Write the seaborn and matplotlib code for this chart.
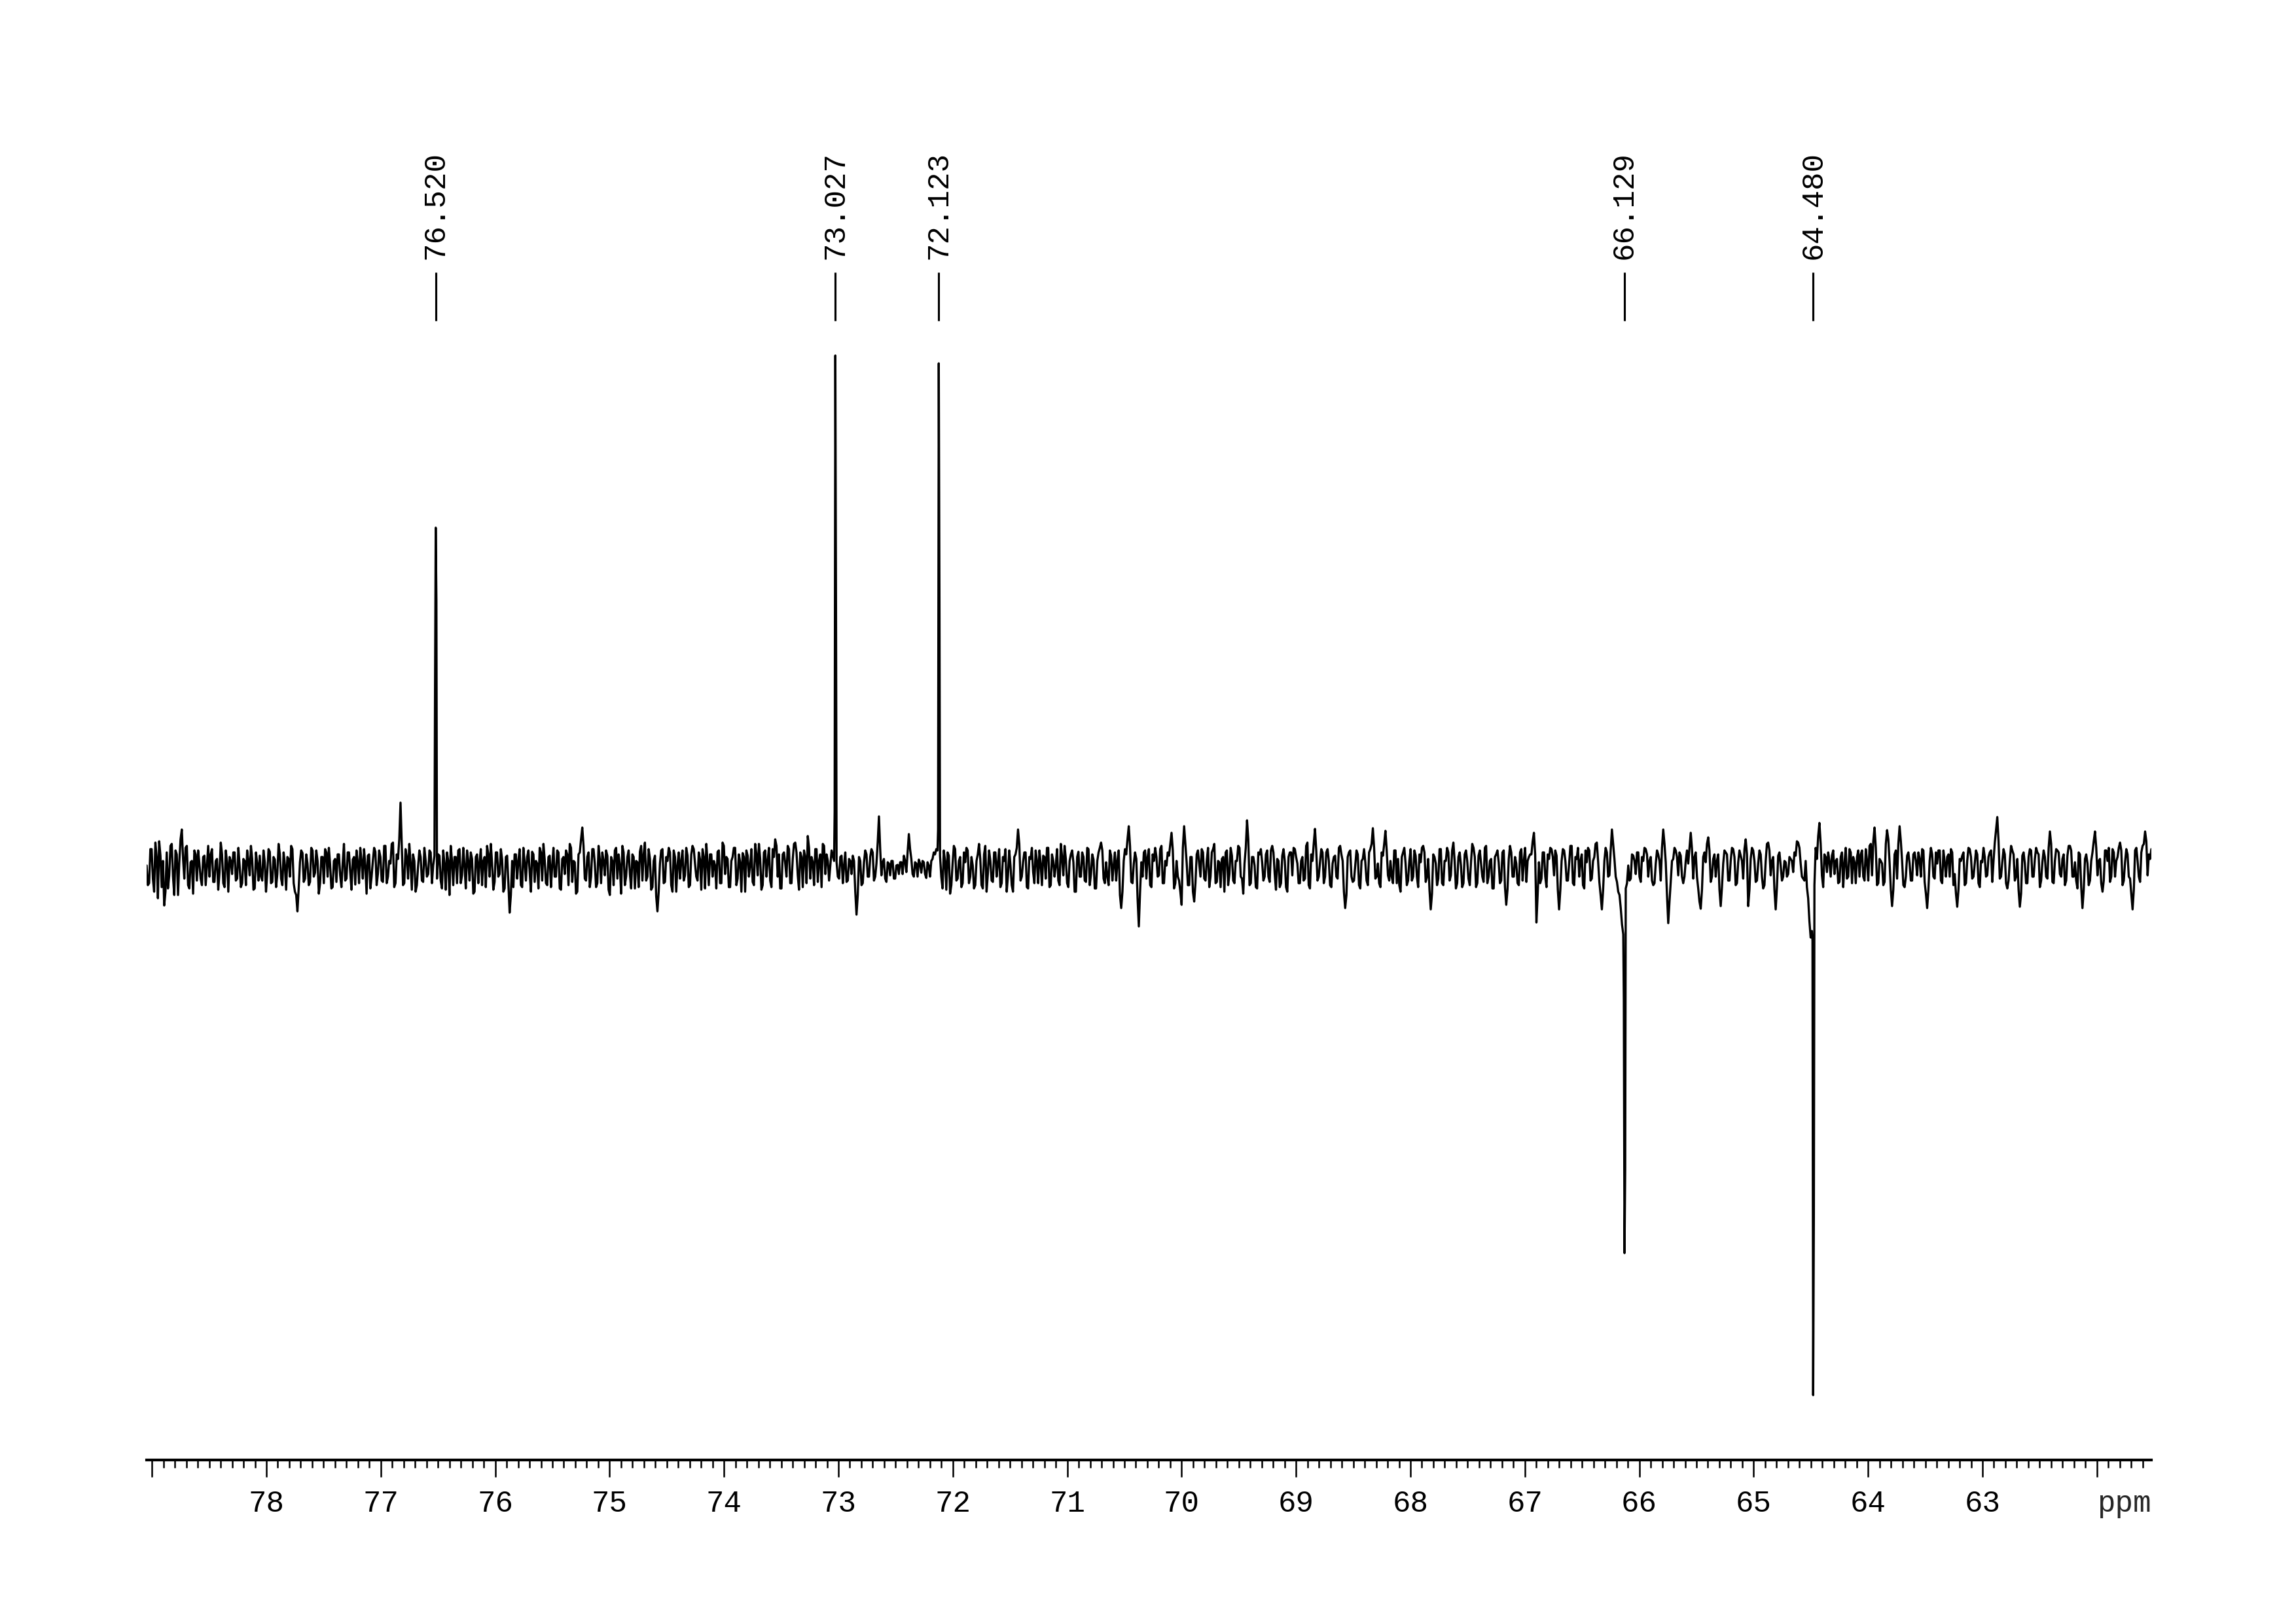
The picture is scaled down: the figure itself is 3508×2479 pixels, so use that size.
import numpy as np
import pandas as pd
import matplotlib
matplotlib.use("Agg")
import matplotlib.pyplot as plt
from matplotlib.ticker import FixedLocator, FixedFormatter, MultipleLocator
import seaborn as sns

# ---------------- data (intensities in arbitrary units, baseline = 0) ----------------
x_start, x_end = 79.047, 61.524          # spectral window (ppm)
peak_ppm   = [76.520, 73.027, 72.123, 66.129, 64.480]
peak_top   = [521, 784, 772, -587, -804]
peak_left  = [270, 87, 60, -200, -110]
peak_right = [410, 400, 410, -460, -527]
peak_labels = ["76.520", "73.027", "72.123", "66.129", "64.480"]

major_ticks = [79, 78, 77, 76, 75, 74, 73, 72, 71, 70, 69, 68, 67, 66, 65, 64, 63, 62]
major_labels = ["", "78", "77", "76", "75", "74", "73", "72", "71", "70", "69",
                "68", "67", "66", "65", "64", "63", ""]

# baseline noise read segment by segment (between the peaks); *_mid = in-between points
noise_1 = [5, -22, 30, -35, 18, 42, -28, -56, 25, -10,
           38, -40, 22, 10, 60, -15, 35, -30, 12, 28,
           -18, 8, -25, 20, 5, -12, 30, -20, 15, -5,
           22, -28, 10, 18, -8, 25, -15, 5, -22, 12,
           28, -10, 15, -30, 8, 20, -18, 10, -5, 26,
           -20, 14, -8, 22, -25, 6, 18, -12, 30, -35,
           -65, 10, 24, -15, 8, -20, 28, -6, 12, -22,
           18, 30, -12, 6, -28, 15, 22, -10, 8, -18,
           25, -5, 14, -24, 10, 32, -15, 5, 20, -30,
           12, 26, -8, 18, -20, 35, -12, 8, 40, -22,
           15, 101, -25, 30, -15, 10, 22, -35, 5, 18,
           -20, 12, -8, 25, 5]
noise_1_mid = [-25, 30, -15, 40, -45, 20, 12, -35, -30, 35,
               -12, 28, -40, 45, 15, 32, -25, 10, -38, 22,
               28, -15, 18, -25, 35, 22, -20, 12, -32, 40,
               -22, 28, -35, 12, 25, -18, 32, -28, 15, -25,
               12, 35, -32, 25, -18, -12, 28, -35, 30, -22,
               18, -28, 38, -15, 25, -32, 15, 35, -22, -40,
               -30, 28, -20, 22, -25, 32, -12, 28, -38, 18,
               -22, 25, 32, -30, 12, -20, 22, -28, 38, -15,
               25, -32, 18, 28, -22, 12, 30, -38, 22, -12,
               32, -25, 28, -18, 35, -22, 12, 38, -28, 22,
               45, 35, -22, 18, 38, -32, 12, -25, 28, -18,
               32, -12, 28, -22, 20]
noise_2 = [-15, 20, -30, 8, 25, -40, 12, 18, -22, 30,
           -10, 5, 28, -18, 15, -35, 22, 10, -25, 18,
           35, -12, 8, -20, 25, -8, 14, -30, 20, -67,
           12, 22, -15, 30, -28, 10, 18, -5, 26, -20,
           8, 32, -18, 14, -25, 20, 5, -12, 28, -30,
           15, -8, 22, 38, -20, 10, -35, 25, 63, -15,
           18, -28, 30, 8, -22, 14, 25, -10, 20, -40,
           12, 28, -15, 5, 35, -25, 18, -8, 22, -30,
           10, 26, -18, 40, -12, 15, -28, 20, -65, 8,
           30, -20, 12, 25, -35, 18, 5, -15, 28, -10,
           20, -25, 35, 8, -18, 14, 30, -30, 10, 22,
           -12, 5, 26, -22, 40, -8, 15, -28, 18, 32,
           -15, 10, 24, -35, 20, 6, -20, 38, -10, 15,
           -25, 28, 12, -18, 30, 45, -12, -30, 22, 8,
           35, -22, 15, 40, -10, 25, -28, 18, 50, -15,
           10, 30, -20, 22, 38, -8, 12, 5, 20]
noise_2_mid = [22, -18, 28, -32, 12, 35, -25, 18, 28, -22,
               32, -30, 12, 25, -38, 18, -22, 30, 12, -28,
               22, 38, -32, 25, -12, 30, -35, 18, -22, -40,
               -28, 22, 12, -25, 32, -18, 28, -35, 22, 12,
               -30, 25, 38, -22, 18, -28, 32, -12, 25, -32,
               18, 28, -25, 32, 12, -38, 22, 45, 35, -18,
               25, -12, 30, -28, 35, -22, 12, 28, -32, 18,
               -25, 32, 22, -38, 25, -12, 28, -30, 18, 12,
               -28, 35, 22, -18, 30, -32, 12, -42, -35, 28,
               -22, 18, 32, -25, 28, -35, 25, 12, -18, 32,
               -28, 22, 30, -12, 25, -32, 18, 38, -25, 22,
               12, -30, 28, -22, 35, 18, -28, 12, 32, -25,
               22, -35, 18, 28, -12, 30, -25, 22, 38, -32,
               25, -12, 32, -28, 18, 35, 22, -30, 25, -12,
               30, -22, 38, 25, -32, 18, 28, -22, 32, 18,
               -25, 30, 12, -28, 35, 22, -18, 28, 12]
noise_3 = [10, -15, 20, 5, -20, 15, -8, 12, -70, 18,
           -25, 10, 22, -12, 30, -18, 8, 80, -10, 15,
           -20, 8, 12, -15, 5, -8, 10, 20, -5, 53,
           15, -12, 8, 14, -6, 10, -14, 5, 12, 25, 30]
noise_3_mid = [-12, 18, -22, 25, -18, 12, 20, -35, -40, 12,
               -22, 28, -12, 18, 25, -12, 40, 30, 10, -15,
               10, -10, 12, -15, 6, 10, -8, 12, 25, 30,
               -8, 10, -12, 8, 12, -8, 10, -12, 15, 22, 28]
noise_4 = [20, -30, 12, 25, -38, 8, 30, -15, 18, -22,
           10, 28, -12, 5, -25, 22, 15, -30, 35, -8,
           12, -20, 25, 8, -28, 18, 30, -10, 5, -35,
           22, 60, -18, 10, 25, -30, 15, -5, 28, -22,
           8, 20, -15, 32, -25, 12, 5, -18, 38, -10,
           15, -28, 22, 10, -35, 26, -12, 18, -20, 30,
           -8, 14, -30, 25, 40, -15, 10, -25, 20, 5,
           -18, 28, -60, 12, 22, 65, -20, 8, 15, -88,
           10, 25, -15, 30, -28, 12, 18, -10, 35, -22,
           5, 20, 55, -30, 12, -18, -55, 65, 10, -25,
           18, -50, 22, 8, 30, -15, 12, -28, 25, 38,
           -20, 10, 15, -35, 28, -8, 20, -22, 12, 32,
           -15, 8, 74, -25, 18, 5, -30, 22, 10, -12,
           28, -20, 35, -8, 15, -28, 20, 12, -35, 25,
           -10, 30, 8, -22, 18, -15, 40, -30, 12, 61,
           -18, 10, 25, -12, 30, -25, 8, 20, -15, 35,
           12, -60, 18, 28, -20, 5, 22, -30, 15, 10,
           -25, 30, 62, -15, 8, -28, 20, 58, -10, 12,
           -22, 28, 15, -35, 25, 8, -18, 30, -12, 20,
           -28, 10, 35, -20, 15, -62, 22, 8, -15, 30,
           -25, 12, 25, -10, 40, -30, 18, 5, -22, 28,
           -15, 10, 32, -28, 20, 8, -20, 35, -12, 15,
           -30, 22, 10, -18, 28, -55, 15, 25, -12, 8,
           -25, 30, 12, -20, 18, 22, 55, -82, 10, -15,
           25, -28, 15, 30, -10, 20, -62, 12, 28, -18,
           8, 35, -25, 15, -12, 22, -30, 10, 28, -15,
           18, 40, -20, -62, 12, 25, -10, 60, 15, -20,
           -40, -85]
noise_4_mid = [-12, 28, -32, 20, -25, 35, -18, 12, -28, 25,
               32, -22, 18, -30, 12, 38, -25, 22, -35, 28,
               -18, 25, -12, 30, -22, 12, -35, 28, -25, 18,
               32, 38, -12, 25, -28, 18, 32, -22, 12, 28,
               -25, 18, 32, -28, 22, -12, 30, -25, 18, 35,
               -22, 12, 28, -35, 18, -12, 25, -18, 32, -25,
               22, -30, 12, 32, 28, -22, -12, 28, -18, 25,
               12, -40, -35, 30, 45, 35, -22, 25, -45, -35,
               -12, 28, 18, -25, 22, 32, -12, 30, -22, 12,
               25, 38, 28, -22, -12, -35, 32, 38, -25, 18,
               -35, -22, 28, -12, 25, -18, 32, -12, 30, -22,
               12, -28, 18, 25, -25, 32, -18, 12, 35, -12,
               -38, 32, 45, -22, 18, -28, 25, 30, -18, 22,
               -12, 28, 25, -32, 12, -22, 30, -28, 18, 25,
               32, 18, -22, 12, -18, 35, -25, 22, 38, 28,
               -12, 30, -22, 25, 12, -28, 18, -12, 32, 22,
               -35, -40, 25, -12, -18, 28, -25, 12, 30, -18,
               25, 38, 32, -12, -22, 25, 38, 28, -18, -12,
               28, -22, -25, 18, 32, -25, 12, -18, 28, -12,
               22, 32, 25, -12, -32, -38, 18, -25, 30, -22,
               12, 32, -18, 28, 12, -22, 25, -28, 22, 12,
               -25, 38, 18, -22, 28, -12, 32, -22, 12, -30,
               18, 28, -22, 25, -28, -32, 35, -12, 18, -22,
               25, -18, 32, 12, 22, 42, 22, -38, -22, 25,
               -12, 22, 32, 18, 28, -32, -32, 30, 12, -18,
               35, -22, 18, 32, 12, -25, 28, 32, -18, 12,
               38, 12, -40, -32, 32, -12, 28, 38, -12, -35,
               -60, -100]
noise_5 = [-30, 5, -15, 20, -8, 25, -20, 12, 30, -12,
           18, -25, 8, 22, -18, 60, 10, -83, -20, 15,
           28, -10, 20, -22, 12, 8, 55, -15, 25, -30,
           -61, 18, 10, 48, -20, 15, -12, 22, -57, 8,
           25, -18, 12, 30, -25, 10, 20, -15, 45, -57,
           15, 28, -20, 8, 22, -30, 12, 40, -10, 18,
           -62, 20, 5, -12, 10, -8, 15, -5, 20, 40,
           8, -15, 12, -45, -105]
noise_5_mid = [-22, -18, 22, 12, 25, -12, 18, 32, 22, 12,
               -18, -22, 28, 12, 32, 38, -40, -50, 12, 32,
               18, 25, -12, -12, 28, 32, 30, 18, -12, -50,
               -32, 25, 38, 28, -12, 22, 12, -32, -28, 28,
               22, -18, 32, 18, -22, 28, 12, 30, 22, -32,
               32, 12, -18, 28, -12, -25, 38, 28, 12, -32,
               -28, 25, -18, 12, -12, 18, 12, 25, 42, 32,
               -12, -18, -28, -80, -95]
noise_6 = [-25, 15, 70, -10, 22, -5, 12, 20, -8, 15,
           -20, 25, 8, -15, 30, -22, 10, 18, -12, 28,
           -18, 12, 35, -10, 63, -25, 15, 8, -20, 59,
           10, -57, 22, -15, 65, 12, -28, 20, 8, -18,
           25, -10, 15, 30, -20, -60, 12, 22, -15, 8,
           28, -22, 10, 18, -12, 25, -8, -58, 15, 20,
           -25, 12, 30, -15, 8, 22, -28, 10, 18, -10,
           25, -20, 40, 79, -15, 10, 22, -30, 12, 28,
           -18, 15, -58, 20, 8, -22, 30, -12, 15, 25,
           -28, 10, 18, -15, 57, -20, 12, 28, -8, 15,
           -25, 20, 35, -12, 10, -30, 22, -60, 15, 8,
           -18, 25, 57, -10, 15, -35, 28, 12, -20, 30,
           -12, 18, 40, -25, 10, 22, -15, -62, 28, 12,
           -20, 35, 57, -10, 15]
noise_6_mid = [32, 50, 38, -28, 18, 25, -12, 28, 12, -22,
               18, -28, 32, -12, 25, 18, -22, 28, 22, -12,
               30, -18, 38, 42, 32, -22, 12, -25, 38, 45,
               -32, -32, 28, 38, 42, -25, -12, 25, -18, 22,
               12, 25, -12, 28, -38, -32, 32, -12, 25, 28,
               -18, 28, -12, 22, 30, -25, -38, -32, 12, 25,
               -22, 32, 18, -12, 28, -22, 12, 32, -12, 18,
               28, 12, 60, 42, -12, 30, -22, -18, 35, 22,
               -12, -32, -38, 25, -22, 18, 28, -12, 32, 22,
               -18, 28, -12, 32, 38, -22, 30, 25, -12, 22,
               -18, 35, 28, -12, -18, 25, -28, -32, 22, -25,
               12, 42, 32, 12, -22, -18, 28, 32, -12, 25,
               12, 32, 28, -18, 30, -12, -38, -32, 32, -12,
               25, 38, 42, 22, 30]

# ---------------- assemble spectrum on its ppm axis ----------------
segments = [(noise_1, noise_1_mid), (noise_2, noise_2_mid), (noise_3, noise_3_mid),
            (noise_4, noise_4_mid), (noise_5, noise_5_mid), (noise_6, noise_6_mid)]
bounds = [x_start] + peak_ppm + [x_end]
xs, ys = [], []
dp = 0.006
for k, (main, mid) in enumerate(segments):
    seg = []
    for i, v in enumerate(main):
        seg.append(v)
        if i < len(mid):
            seg.append(mid[i])
    a, b = bounds[k], bounds[k + 1]
    n = len(seg)
    if k == 0:
        sx = np.linspace(a, b, n + 1)[:-1]
    elif k == len(segments) - 1:
        sx = np.linspace(a, b, n + 1)[1:]
    else:
        sx = np.linspace(a, b, n + 2)[1:-1]
    xs.extend(sx)
    ys.extend(seg)
    if k < len(peak_ppm):
        p = peak_ppm[k]
        xs.extend([p + dp, p, p - dp])
        ys.extend([peak_left[k], peak_top[k], peak_right[k]])

df = pd.DataFrame({"ppm": xs, "intensity": ys})

# ---------------- figure ----------------
sns.set_style("white")
plt.rcParams["font.family"] = ["Liberation Mono", "DejaVu Sans Mono"]

W, H, DPI = 3508, 2479, 300
fig = plt.figure(figsize=(W / DPI, H / DPI), dpi=DPI)
ax = fig.add_axes([224 / W, 1 - 2230 / H, 3063 / W, 2230 / H])

sns.lineplot(data=df, x="ppm", y="intensity", sort=False, estimator=None,
             color="black", linewidth=0.8, ax=ax)

ax.set_xlim(x_start, x_end)
ax.set_ylim(-903, 1327)

# peak labels
ax.vlines(peak_ppm, 837, 911, color="black", linewidth=0.75)
for p, lab in zip(peak_ppm, peak_labels):
    ax.text(p, 931, lab, rotation=90, ha="center", va="bottom",
            fontsize=11, color="black")

# axis styling
for s in ["top", "left", "right"]:
    ax.spines[s].set_visible(False)
ax.spines["bottom"].set_linewidth(1.0)
ax.spines["bottom"].set_color("black")
ax.set_yticks([])
ax.xaxis.set_major_locator(FixedLocator(major_ticks))
ax.xaxis.set_major_formatter(FixedFormatter(major_labels))
ax.xaxis.set_minor_locator(MultipleLocator(0.1))
ax.tick_params(axis="x", which="both", bottom=True, top=False)
ax.tick_params(axis="x", which="major", direction="out", length=6.2, width=0.6,
               color="black", labelsize=11, pad=4.7, labelcolor="black")
ax.tick_params(axis="x", which="minor", direction="out", length=2.9, width=0.6,
               color="black")
ax.set_xlabel("")
ax.set_ylabel("")
ax.annotate("ppm", xy=(1, 0), xycoords="axes fraction", xytext=(0, -10.9),
            textcoords="offset points", ha="right", va="top", fontsize=11)
ax.patch.set_alpha(0)

fig.savefig("out.png", dpi=DPI, facecolor="white")
